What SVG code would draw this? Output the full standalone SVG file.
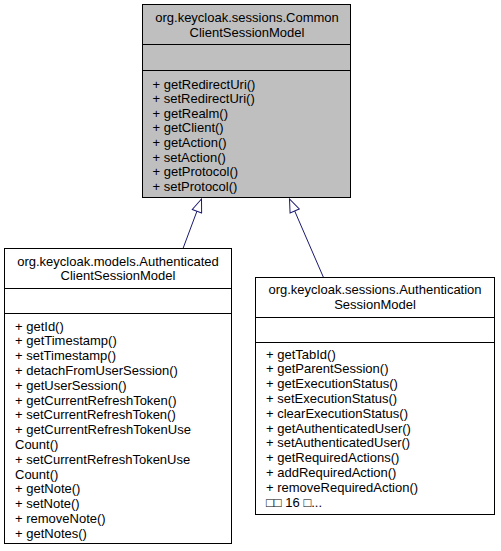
<svg xmlns="http://www.w3.org/2000/svg" width="501" height="551" viewBox="0 0 501 551">
<style>
  .box { stroke: #000000; stroke-width: 1; }
  .abs { fill: #bfbfbf; }
  .cls { fill: #ffffff; }
  .div { stroke: #000000; stroke-width: 1; }
  text { font-family: "Liberation Sans", Arial, sans-serif; font-size: 13px; fill: #000000; }
  .title { text-anchor: middle; }
  .edge { stroke: #191970; stroke-width: 1; fill: none; }
</style>
<defs>
  <marker id="inherit" markerUnits="userSpaceOnUse" viewBox="-14 -6 15 12" markerWidth="15" markerHeight="12" refX="0" refY="0" orient="auto">
    <path d="M0,0 L-13,-5 L-13,5 Z" fill="#ffffff" stroke="#191970" stroke-width="1"/>
  </marker>
</defs>
<rect width="501" height="551" fill="#ffffff"/>
<g id="connectors">
  <line class="edge" x1="183" y1="248.5" x2="201.5" y2="199" marker-end="url(#inherit)"/>
  <line class="edge" x1="323.5" y1="277.5" x2="289.5" y2="199" marker-end="url(#inherit)"/>
</g>
<g id="CommonClientSessionModel">
  <rect class="box abs" x="142.5" y="4.5" width="208" height="193"/>
  <line class="div" x1="142.5" y1="44.5" x2="350.5" y2="44.5"/>
  <line class="div" x1="142.5" y1="70.5" x2="350.5" y2="70.5"/>
  <text class="title" x="247" y="22">org.keycloak.sessions.Common</text>
  <text class="title" x="247" y="36.5">ClientSessionModel</text>
  <text x="152.5" y="88.5">+ getRedirectUri()</text>
  <text x="152.5" y="103.1">+ setRedirectUri()</text>
  <text x="152.5" y="117.7">+ getRealm()</text>
  <text x="152.5" y="132.3">+ getClient()</text>
  <text x="152.5" y="146.9">+ getAction()</text>
  <text x="152.5" y="161.5">+ setAction()</text>
  <text x="152.5" y="176.1">+ getProtocol()</text>
  <text x="152.5" y="190.7">+ setProtocol()</text>
</g>
<g id="AuthenticatedClientSessionModel">
  <rect class="box cls" x="4.5" y="248.5" width="227" height="295"/>
  <line class="div" x1="4.5" y1="288.5" x2="231.5" y2="288.5"/>
  <line class="div" x1="4.5" y1="313.5" x2="231.5" y2="313.5"/>
  <text class="title" x="118" y="265.5">org.keycloak.models.Authenticated</text>
  <text class="title" x="118" y="280">ClientSessionModel</text>
  <text x="15" y="330.5">+ getId()</text>
  <text x="15" y="345.3">+ getTimestamp()</text>
  <text x="15" y="360.1">+ setTimestamp()</text>
  <text x="15" y="374.9">+ detachFromUserSession()</text>
  <text x="15" y="389.7">+ getUserSession()</text>
  <text x="15" y="404.5">+ getCurrentRefreshToken()</text>
  <text x="15" y="419.3">+ setCurrentRefreshToken()</text>
  <text x="15" y="434.1">+ getCurrentRefreshTokenUse</text>
  <text x="15" y="448.9">Count()</text>
  <text x="15" y="463.7">+ setCurrentRefreshTokenUse</text>
  <text x="15" y="478.5">Count()</text>
  <text x="15" y="493.3">+ getNote()</text>
  <text x="15" y="508.1">+ setNote()</text>
  <text x="15" y="522.9">+ removeNote()</text>
  <text x="15" y="537.7">+ getNotes()</text>
</g>
<g id="AuthenticationSessionModel">
  <rect class="box cls" x="255.5" y="277.5" width="239" height="237"/>
  <line class="div" x1="255.5" y1="317.5" x2="494.5" y2="317.5"/>
  <line class="div" x1="255.5" y1="342.5" x2="494.5" y2="342.5"/>
  <text class="title" x="375" y="294">org.keycloak.sessions.Authentication</text>
  <text class="title" x="375" y="309">SessionModel</text>
  <text x="266" y="358.5">+ getTabId()</text>
  <text x="266" y="373.3">+ getParentSession()</text>
  <text x="266" y="388.1">+ getExecutionStatus()</text>
  <text x="266" y="402.9">+ setExecutionStatus()</text>
  <text x="266" y="417.7">+ clearExecutionStatus()</text>
  <text x="266" y="432.5">+ getAuthenticatedUser()</text>
  <text x="266" y="447.3">+ setAuthenticatedUser()</text>
  <text x="266" y="462.1">+ getRequiredActions()</text>
  <text x="266" y="476.9">+ addRequiredAction()</text>
  <text x="266" y="491.7">+ removeRequiredAction()</text>
  <text x="266" y="506.5">□□ 16 □...</text>
</g>
</svg>
